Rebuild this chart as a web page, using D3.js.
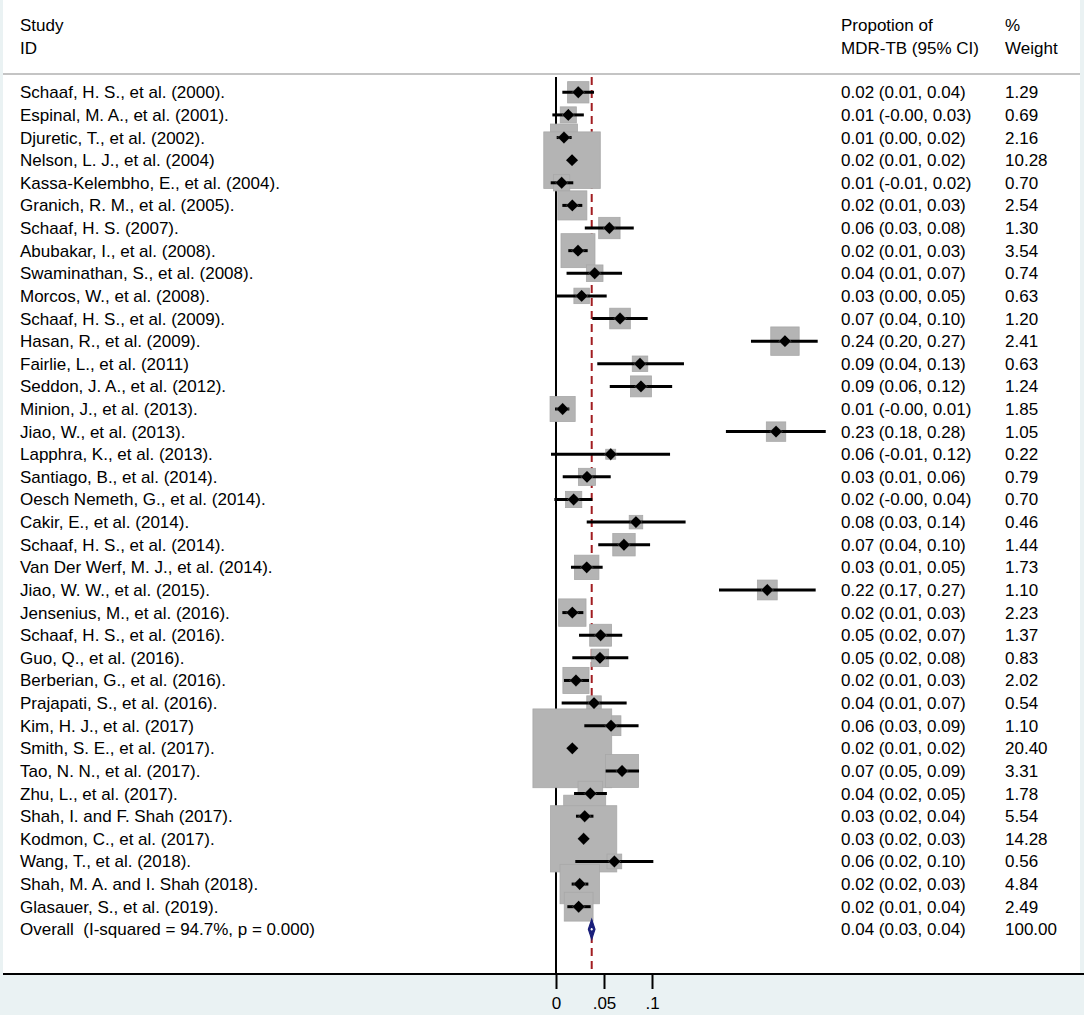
<!DOCTYPE html>
<html><head><meta charset="utf-8">
<script src="https://cdn.jsdelivr.net/npm/d3@7"></script>
<style>
html,body{margin:0;padding:0;background:#eaf2f3;}
svg{display:block;font-family:"Liberation Sans",Arial,sans-serif;}
text{white-space:pre;}
</style></head>
<body>
<svg id="chart" width="1084" height="1015"></svg>
<script>
const studies = [
"Schaaf, H. S., et al. (2000).","Espinal, M. A., et al. (2001).","Djuretic, T., et al. (2002).",
"Nelson, L. J., et al. (2004)","Kassa-Kelembho, E., et al. (2004).","Granich, R. M., et al. (2005).",
"Schaaf, H. S. (2007).","Abubakar, I., et al. (2008).","Swaminathan, S., et al. (2008).",
"Morcos, W., et al. (2008).","Schaaf, H. S., et al. (2009).","Hasan, R., et al. (2009).",
"Fairlie, L., et al. (2011)","Seddon, J. A., et al. (2012).","Minion, J., et al. (2013).",
"Jiao, W., et al. (2013).","Lapphra, K., et al. (2013).","Santiago, B., et al. (2014).",
"Oesch Nemeth, G., et al. (2014).","Cakir, E., et al. (2014).","Schaaf, H. S., et al. (2014).",
"Van Der Werf, M. J., et al. (2014).","Jiao, W. W., et al. (2015).","Jensenius, M., et al. (2016).",
"Schaaf, H. S., et al. (2016).","Guo, Q., et al. (2016).","Berberian, G., et al. (2016).",
"Prajapati, S., et al. (2016).","Kim, H. J., et al. (2017)","Smith, S. E., et al. (2017).",
"Tao, N. N., et al. (2017).","Zhu, L., et al. (2017).","Shah, I. and F. Shah (2017).",
"Kodmon, C., et al. (2017).","Wang, T., et al. (2018).","Shah, M. A. and I. Shah (2018).",
"Glasauer, S., et al. (2019)."
];
const est = [0.0232,0.0128,0.0083,0.0167,0.0059,0.0170,0.0556,0.0229,0.0403,0.0267,0.0667,0.2385,
0.0875,0.0885,0.0069,0.2292,0.0570,0.0323,0.0184,0.0833,0.0708,0.0320,0.2201,0.0170,0.0465,0.0458,
0.0208,0.0396,0.0573,0.0170,0.0688,0.0358,0.0299,0.0288,0.0608,0.0247,0.0236];
const lo = [0.0066,-0.0038,0.0007,0.0135,-0.0055,0.0066,0.0300,0.0128,0.0110,0.0007,0.0378,0.2031,
0.0430,0.0560,-0.0010,0.1770,-0.0052,0.0070,-0.0017,0.0320,0.0440,0.0156,0.1698,0.0066,0.0240,0.0170,
0.0083,0.0059,0.0295,0.0145,0.0517,0.0188,0.0208,0.0255,0.0201,0.0163,0.0118];
const hi = [0.0396,0.0290,0.0163,0.0200,0.0180,0.0274,0.0810,0.0330,0.0688,0.0528,0.0955,0.2726,
0.1333,0.1210,0.0139,0.2810,0.1188,0.0570,0.0378,0.1350,0.0980,0.0486,0.2705,0.0285,0.0690,0.0753,
0.0344,0.0736,0.0860,0.0195,0.0865,0.0530,0.0390,0.0320,0.1014,0.0337,0.0361];
const esLabels = ["0.02 (0.01, 0.04)","0.01 (-0.00, 0.03)","0.01 (0.00, 0.02)","0.02 (0.01, 0.02)",
"0.01 (-0.01, 0.02)","0.02 (0.01, 0.03)","0.06 (0.03, 0.08)","0.02 (0.01, 0.03)","0.04 (0.01, 0.07)",
"0.03 (0.00, 0.05)","0.07 (0.04, 0.10)","0.24 (0.20, 0.27)","0.09 (0.04, 0.13)","0.09 (0.06, 0.12)",
"0.01 (-0.00, 0.01)","0.23 (0.18, 0.28)","0.06 (-0.01, 0.12)","0.03 (0.01, 0.06)","0.02 (-0.00, 0.04)",
"0.08 (0.03, 0.14)","0.07 (0.04, 0.10)","0.03 (0.01, 0.05)","0.22 (0.17, 0.27)","0.02 (0.01, 0.03)",
"0.05 (0.02, 0.07)","0.05 (0.02, 0.08)","0.02 (0.01, 0.03)","0.04 (0.01, 0.07)","0.06 (0.03, 0.09)",
"0.02 (0.01, 0.02)","0.07 (0.05, 0.09)","0.04 (0.02, 0.05)","0.03 (0.02, 0.04)","0.03 (0.02, 0.03)",
"0.06 (0.02, 0.10)","0.02 (0.02, 0.03)","0.02 (0.01, 0.04)"];
const weights = [1.29,0.69,2.16,10.28,0.70,2.54,1.30,3.54,0.74,0.63,1.20,2.41,0.63,1.24,1.85,1.05,0.22,
0.79,0.70,0.46,1.44,1.73,1.10,2.23,1.37,0.83,2.02,0.54,1.10,20.40,3.31,1.78,5.54,14.28,0.56,4.84,2.49];
const weightLabels = ["1.29","0.69","2.16","10.28","0.70","2.54","1.30","3.54","0.74","0.63","1.20","2.41",
"0.63","1.24","1.85","1.05","0.22","0.79","0.70","0.46","1.44","1.73","1.10","2.23","1.37","0.83","2.02",
"0.54","1.10","20.40","3.31","1.78","5.54","14.28","0.56","4.84","2.49"];
const overallLabel = "Overall  (I-squared = 94.7%, p = 0.000)";
const overallEst = 0.0372, overallLo = 0.0337, overallHi = 0.0406;
const overallES = "0.04 (0.03, 0.04)", overallW = "100.00";
const headers = [["Study","ID"],["Propotion of","MDR-TB (95% CI)"],["%","Weight"]];
const tickValues = [0, 0.05, 0.1];
const tickLabels = ["0", ".05", ".1"];

const W = 1084, H = 1015;
const svg = d3.select("#chart");
const fs = 17;

const x = d3.scaleLinear().domain([0, 0.1]).range([556, 652]);
const y = d3.scaleLinear().domain([0, studies.length]).range([92.3, 929.3]);
const side = d3.scaleSqrt().domain([0, 1]).range([0, 17]);
const axisY = 974;

// plot region
svg.append("rect").attr("x", 0).attr("y", 0).attr("width", W).attr("height", H).attr("fill", "#eaf2f3");
svg.append("rect").attr("x", 3).attr("y", 0).attr("width", 1077).attr("height", axisY).attr("fill", "#ffffff");

// headers
const colX = [20, 841, 1005];
headers.forEach((h, c) => {
  h.forEach((t, r) => {
    svg.append("text").attr("x", colX[c]).attr("y", 31 + r * 23).attr("font-size", fs).attr("fill", "#000").text(t);
  });
});
svg.append("line").attr("x1", 3).attr("x2", 1080).attr("y1", 74).attr("y2", 74)
  .attr("stroke", "#c4c4c4").attr("stroke-width", 2);

// null line
svg.append("line").attr("x1", x(0)).attr("x2", x(0)).attr("y1", 77).attr("y2", axisY)
  .attr("stroke", "#000").attr("stroke-width", 2);
// overall dashed line
svg.append("line").attr("x1", x(overallEst)).attr("x2", x(overallEst)).attr("y1", 77).attr("y2", axisY)
  .attr("stroke", "#a11d21").attr("stroke-width", 2).attr("stroke-dasharray", "8,5");

const idx = d3.range(studies.length);
// boxes
svg.append("g").selectAll("rect").data(idx).join("rect")
  .attr("x", i => x(est[i]) - (side(weights[i]) + 2) / 2)
  .attr("y", i => y(i) - (side(weights[i]) + 2) / 2)
  .attr("width", i => side(weights[i]) + 2)
  .attr("height", i => side(weights[i]) + 2)
  .attr("fill", "#b4b4b4").attr("stroke", "#a8a8a8").attr("stroke-width", 0.8);
// CI lines
svg.append("g").selectAll("line").data(idx).join("line")
  .attr("x1", i => x(lo[i])).attr("x2", i => x(hi[i]))
  .attr("y1", i => y(i)).attr("y2", i => y(i))
  .attr("stroke", "#000").attr("stroke-width", 3);
// point diamonds
const dr = 6.2;
svg.append("g").selectAll("path").data(idx).join("path")
  .attr("d", i => {
    const cx = x(est[i]), cy = y(i);
    return `M${cx},${cy - dr}L${cx + dr},${cy}L${cx},${cy + dr}L${cx - dr},${cy}Z`;
  })
  .attr("fill", "#000").attr("stroke", "#ffffff").attr("stroke-opacity", 0.35).attr("stroke-width", 0.6);

// overall diamond
const oy = y(studies.length);
svg.append("path")
  .attr("d", `M${x(overallLo)},${oy}L${x(overallEst)},${oy - 10}L${x(overallHi)},${oy}L${x(overallEst)},${oy + 10}Z`)
  .attr("fill", "#1a1f7a").attr("stroke", "#1a1f7a").attr("stroke-width", 1.2);
svg.append("ellipse").attr("cx", x(overallEst)).attr("cy", oy).attr("rx", 1).attr("ry", 1.3).attr("fill", "#ffffff");

// text columns
const labels = studies.concat([overallLabel]);
const esAll = esLabels.concat([overallES]);
const wAll = weightLabels.concat([overallW]);
const rows = d3.range(labels.length);
svg.append("g").selectAll("text").data(rows).join("text")
  .attr("x", 20).attr("y", i => y(i) + 6).attr("font-size", fs).attr("fill", "#000").text(i => labels[i]);
svg.append("g").selectAll("text").data(rows).join("text")
  .attr("x", 841).attr("y", i => y(i) + 6).attr("font-size", fs).attr("fill", "#000").text(i => esAll[i]);
svg.append("g").selectAll("text").data(rows).join("text")
  .attr("x", 1005).attr("y", i => y(i) + 6).attr("font-size", fs).attr("fill", "#000").text(i => wAll[i]);

// axis
svg.append("line").attr("x1", 3).attr("x2", W).attr("y1", axisY).attr("y2", axisY)
  .attr("stroke", "#000").attr("stroke-width", 2);
const axis = d3.axisBottom(x).tickValues(tickValues).tickFormat((d, i) => tickLabels[i]).tickSize(15).tickPadding(8);
const ag = svg.append("g").attr("transform", `translate(0,${axisY})`).call(axis);
ag.select(".domain").remove();
ag.selectAll(".tick line").attr("stroke", "#000").attr("stroke-width", 2);
ag.selectAll(".tick text").attr("font-size", fs).attr("fill", "#000")
  .attr("font-family", '"Liberation Sans",Arial,sans-serif');
</script>
</body></html>
